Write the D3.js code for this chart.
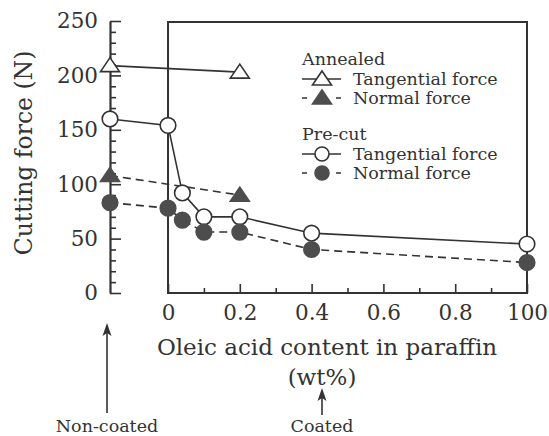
<!DOCTYPE html>
<html>
<head>
<script src="https://d3js.org/d3.v7.min.js"></script>
<style>
  body { margin: 0; background: #fff; }
  text { font-family: "DejaVu Serif", serif; fill: #333; }
</style>
</head>
<body>
<div id="chart"></div>
<script>
  // "nc" = non-coated sample, drawn on the left axis
  const annealedX = ["nc", 0.2]
  const annealedTangential = [209, 203]
  const annealedNormal = [108, 90]

  const precutX = ["nc", 0, 0.04, 0.1, 0.2, 0.4, 1]
  const precutTangential = [160, 154, 92, 70, 70, 55, 45]
  const precutNormal = [83, 78, 67, 56, 56, 40, 28]

  const xTicks = [0, 0.2, 0.4, 0.6, 0.8, 1]
  const xTickLabels = ["0", "0.2", "0.4", "0.6", "0.8", "100"]
  const yTicks = [0, 50, 100, 150, 200, 250]

  const width = 549
  const height = 436
  const ink = "#333"
  const dark = "#4d4d4d"

  const ncSlot = -0.1616
  const x = d3.scaleLinear().domain([ncSlot, 1]).range([110, 527])
  const y = d3.scaleLinear().domain([0, 250]).range([293, 21])
  const px = v => v === "nc" ? x(ncSlot) : x(v)

  const svg = d3.select("#chart").append("svg")
    .attr("width", width).attr("height", height)

  // box around the coated part
  svg.append("rect")
    .attr("x", x(0)).attr("y", y(250) + 1)
    .attr("width", x(1) - x(0)).attr("height", y(0) - y(250) - 1)
    .attr("fill", "none").attr("stroke", ink).attr("stroke-width", 2)

  // left axis (non-coated)
  const minorY = d3.range(0, 251, 10).filter(d => d % 50 !== 0)
  svg.append("g")
    .attr("transform", "translate(" + x(ncSlot) + ",0)")
    .call(d3.axisLeft(y).tickValues(minorY).tickSizeInner(-6).tickSizeOuter(0).tickFormat(""))
    .call(g => g.select(".domain").remove())
  const yAxis = svg.append("g")
    .attr("transform", "translate(" + x(ncSlot) + ",0)")
    .call(d3.axisLeft(y).tickValues(yTicks).tickSizeInner(-11).tickSizeOuter(0).tickPadding(12))
  svg.selectAll("g .tick line").attr("stroke", ink).attr("stroke-width", 1.6)
  yAxis.select(".domain").attr("stroke", ink).attr("stroke-width", 2.2)
  yAxis.selectAll("text").attr("font-size", 21.5).attr("font-family", "DejaVu Serif").attr("fill", ink)

  // bottom ticks
  const minorX = [0.1, 0.3, 0.5, 0.7, 0.9]
  svg.append("g")
    .attr("transform", "translate(0," + y(0) + ")")
    .call(d3.axisBottom(x).tickValues(minorX).tickSizeInner(-5).tickSizeOuter(0).tickFormat(""))
    .call(g => g.select(".domain").remove())
    .selectAll("line").attr("stroke", ink).attr("stroke-width", 1.6)
  const xAxis = svg.append("g")
    .attr("transform", "translate(0," + y(0) + ")")
    .call(d3.axisBottom(x).tickValues(xTicks).tickSizeInner(-9).tickSizeOuter(0).tickPadding(12)
      .tickFormat((d, i) => xTickLabels[i]))
    .call(g => g.select(".domain").remove())
  xAxis.selectAll("line").attr("stroke", ink).attr("stroke-width", 1.6)
  xAxis.selectAll("text").attr("font-size", 21.5).attr("font-family", "DejaVu Serif").attr("fill", ink)

  // series
  const line = d3.line().x(d => px(d[0])).y(d => y(d[1]))
  const triangle = "M0,-8L9.5,6L-9.5,6Z"

  const series = [
    { xs: annealedX, ys: annealedTangential, dash: null, filled: false, shape: "tri" },
    { xs: annealedX, ys: annealedNormal, dash: "8,5", filled: true, shape: "tri" },
    { xs: precutX, ys: precutTangential, dash: null, filled: false, shape: "circle" },
    { xs: precutX, ys: precutNormal, dash: "8,5", filled: true, shape: "circle" }
  ]

  series.forEach(s => {
    const pts = s.xs.map((v, i) => [v, s.ys[i]])
    svg.append("path")
      .attr("d", line(pts))
      .attr("fill", "none").attr("stroke", ink).attr("stroke-width", 1.6)
      .attr("stroke-dasharray", s.dash)
  })

  series.forEach(s => {
    const pts = s.xs.map((v, i) => [v, s.ys[i]])
    const g = svg.append("g")
    if (s.shape === "circle") {
      g.selectAll("circle").data(pts).enter().append("circle")
        .attr("cx", d => px(d[0])).attr("cy", d => y(d[1])).attr("r", 7.8)
        .attr("fill", s.filled ? dark : "#fff").attr("stroke", s.filled ? dark : ink).attr("stroke-width", 1.6)
    } else {
      g.selectAll("path").data(pts).enter().append("path")
        .attr("d", triangle)
        .attr("transform", d => "translate(" + px(d[0]) + "," + y(d[1]) + ")")
        .attr("fill", s.filled ? dark : "#fff").attr("stroke", s.filled ? dark : ink).attr("stroke-width", 1.6)
    }
  })

  // legend
  const legendGroups = [
    { title: "Annealed", y: 65, items: [series[0], series[1]] },
    { title: "Pre-cut", y: 140, items: [series[2], series[3]] }
  ]
  const legendLabels = ["Tangential force", "Normal force"]
  legendGroups.forEach(lg => {
    svg.append("text").attr("x", 302).attr("y", lg.y).attr("font-size", 17.5).text(lg.title)
    lg.items.forEach((s, i) => {
      const ly = lg.y + 14 + i * 19
      svg.append("line").attr("x1", 302).attr("x2", 341).attr("y1", ly).attr("y2", ly)
        .attr("stroke", ink).attr("stroke-width", 1.6).attr("stroke-dasharray", s.dash ? "5,29,5" : null)
      if (s.shape === "circle") {
        svg.append("circle").attr("cx", 322).attr("cy", ly).attr("r", 7)
          .attr("fill", s.filled ? dark : "#fff").attr("stroke", s.filled ? dark : ink).attr("stroke-width", 1.6)
      } else {
        svg.append("path").attr("d", triangle).attr("transform", "translate(322," + ly + ")")
          .attr("fill", s.filled ? dark : "#fff").attr("stroke", s.filled ? dark : ink).attr("stroke-width", 1.6)
      }
      svg.append("text").attr("x", 353).attr("y", ly + 6).attr("font-size", 17.5).text(legendLabels[i])
    })
  })

  // axis titles
  svg.append("text")
    .attr("transform", "translate(32,153) rotate(-90)")
    .attr("text-anchor", "middle").attr("font-size", 23.5)
    .text("Cutting force (N)")
  svg.append("text").attr("x", 327).attr("y", 355).attr("text-anchor", "middle")
    .attr("font-size", 23).text("Oleic acid content in paraffin")
  svg.append("text").attr("x", 322).attr("y", 385).attr("text-anchor", "middle")
    .attr("font-size", 23).text("(wt%)")

  // arrows
  const arrow = (ax, y1, y2) => {
    svg.append("line").attr("x1", ax).attr("x2", ax).attr("y1", y2).attr("y2", y1 + 8)
      .attr("stroke", ink).attr("stroke-width", 1.6)
    svg.append("path")
      .attr("d", "M" + ax + "," + y1 + "L" + (ax - 4.5) + "," + (y1 + 13) + "L" + ax + "," + (y1 + 10) + "L" + (ax + 4.5) + "," + (y1 + 13) + "Z")
      .attr("fill", ink)
  }
  arrow(x(ncSlot) - 3, 323, 413)
  arrow(322, 388, 415)
  svg.append("text").attr("x", x(ncSlot) - 3).attr("y", 432).attr("text-anchor", "middle")
    .attr("font-size", 17.5).text("Non-coated")
  svg.append("text").attr("x", 322).attr("y", 432).attr("text-anchor", "middle")
    .attr("font-size", 17.5).text("Coated")
</script>
</body>
</html>
